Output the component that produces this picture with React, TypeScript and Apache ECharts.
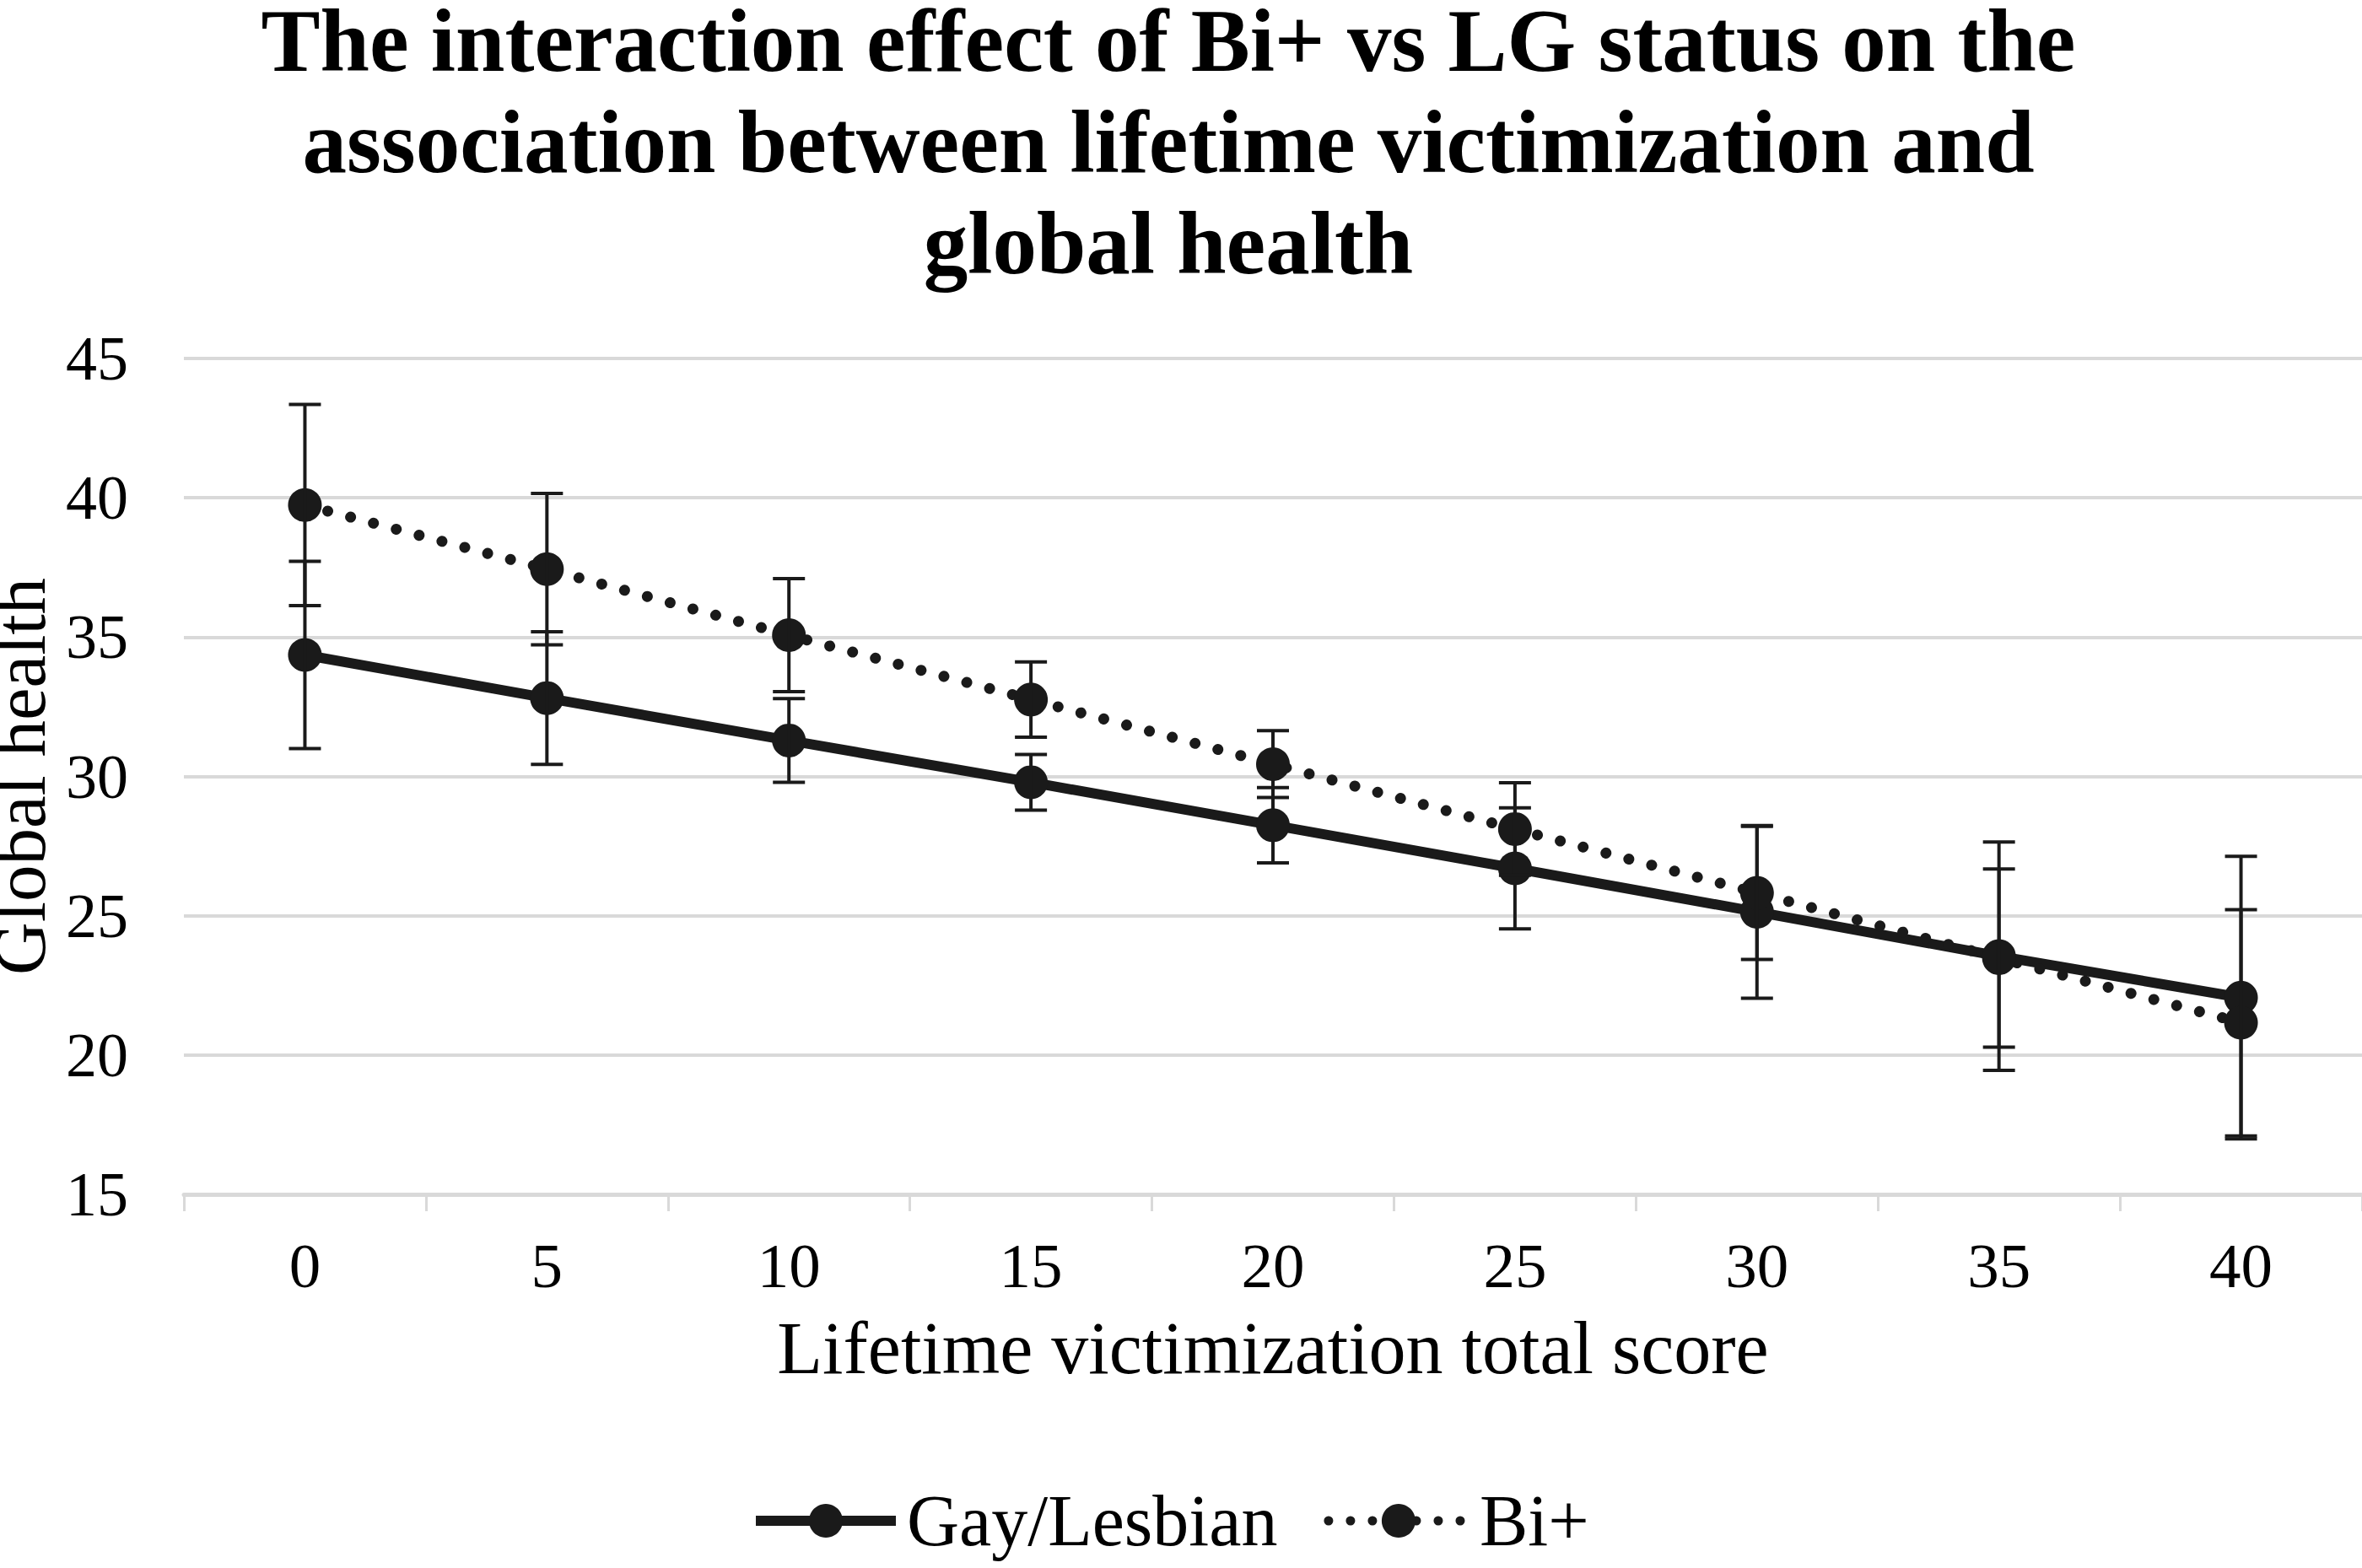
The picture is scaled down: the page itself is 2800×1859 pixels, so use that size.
import React, { useEffect, useRef } from "react";
import * as echarts from "echarts";

const categories = ["0", "5", "10", "15", "20", "25", "30", "35", "40"];
const gayLesbian = [34.36, 32.81, 31.29, 29.79, 28.25, 26.7, 25.14, 23.55, 22.06];
const gayLesbianError = [3.36, 2.38, 1.5, 1.0, 1.35, 2.17, 3.1, 4.1, 5.07];
const biPlus = [39.74, 37.44, 35.07, 32.76, 30.44, 28.11, 25.82, 23.48, 21.16];
const biPlusError = [3.61, 2.72, 2.03, 1.35, 1.2, 1.66, 2.39, 3.2, 4.06];
const yMin = 15;
const yMax = 45;
const yStep = 5;

const FONT = "'Liberation Serif', 'Times New Roman', serif";
const INK = "#1a1a1a";
const GRID = "#d9d9d9";

const toBars = (vals: number[], errs: number[]) =>
  vals.map((v, i) => [i, +(v - errs[i]).toFixed(2), +(v + errs[i]).toFixed(2)]);

const renderErr = (_params: any, api: any) => {
  const x = api.value(0);
  const lo = api.coord([x, api.value(1)]);
  const hi = api.coord([x, api.value(2)]);
  const w = 19;
  const style = { stroke: INK, lineWidth: 4 };
  return {
    type: "group",
    children: [
      { type: "line", shape: { x1: hi[0], y1: hi[1], x2: lo[0], y2: lo[1] }, style },
      { type: "line", shape: { x1: hi[0] - w, y1: hi[1], x2: hi[0] + w, y2: hi[1] }, style },
      { type: "line", shape: { x1: lo[0] - w, y1: lo[1], x2: lo[0] + w, y2: lo[1] }, style },
    ],
  };
};

export default function App() {
  const ref = useRef<HTMLDivElement>(null);
  useEffect(() => {
    document.body.style.margin = "0";
    const chart = echarts.init(ref.current!, null, { renderer: "svg" });
    chart.setOption({
      animation: false,
      backgroundColor: "#ffffff",
      title: {
        text: "The interaction effect of Bi+ vs LG status on the\nassociation between lifetime victimization and\nglobal health",
        left: 1385,
        top: -12,
        padding: 0,
        textAlign: "center",
        textStyle: {
          fontFamily: FONT,
          fontWeight: "bold",
          fontSize: 105,
          lineHeight: 120,
          color: "#000",
        },
      },
      legend: {
        data: [
          { name: "Gay/Lesbian", lineStyle: { width: 12 } },
          { name: "Bi+", lineStyle: { width: 11, type: [0.01, 26], cap: "round" } },
        ],
        left: 890,
        top: 1760,
        padding: 0,
        itemWidth: 166,
        itemHeight: 50,
        itemGap: 55,
        textStyle: { fontFamily: FONT, fontSize: 86, color: "#000", padding: [0, 0, 0, 8] },
      },
      grid: { left: 218, right: 0, top: 425, bottom: 443, containLabel: false, outerBoundsMode: "none" },
      xAxis: {
        type: "category",
        data: categories,
        boundaryGap: true,
        name: "Lifetime victimization total score",
        nameLocation: "middle",
        nameGap: 138,
        nameTextStyle: { fontFamily: FONT, fontSize: 88, color: "#000" },
        axisLine: { show: true, lineStyle: { color: GRID, width: 5 } },
        axisTick: { show: true, length: 20, lineStyle: { color: GRID, width: 3 } },
        axisLabel: { fontFamily: FONT, fontSize: 75, color: "#000", margin: 47 },
        splitLine: { show: false },
      },
      yAxis: {
        type: "value",
        min: yMin,
        max: yMax,
        interval: yStep,
        name: "Global health",
        nameLocation: "middle",
        nameGap: 122,
        nameTextStyle: { fontFamily: FONT, fontSize: 87, color: "#000" },
        axisLine: { show: false },
        axisTick: { show: false },
        axisLabel: { fontFamily: FONT, fontSize: 74, color: "#000", margin: 66 },
        splitLine: { show: true, lineStyle: { color: GRID, width: 4 } },
      },
      series: [
        {
          name: "Gay/Lesbian",
          type: "line",
          data: gayLesbian,
          symbol: "circle",
          symbolSize: 40,
          itemStyle: { color: INK },
          lineStyle: { color: INK, width: 12 },
          z: 3,
        },
        {
          name: "Bi+",
          type: "line",
          data: biPlus,
          symbol: "circle",
          symbolSize: 40,
          itemStyle: { color: INK },
          lineStyle: { color: INK, width: 13, type: [0.01, 28], cap: "round" },
          z: 3,
        },
        {
          name: "GL error",
          type: "custom",
          renderItem: renderErr,
          data: toBars(gayLesbian, gayLesbianError),
          encode: { x: 0, y: [1, 2] },
          z: 4,
        },
        {
          name: "Bi error",
          type: "custom",
          renderItem: renderErr,
          data: toBars(biPlus, biPlusError),
          encode: { x: 0, y: [1, 2] },
          z: 4,
        },
      ],
    });
    return () => chart.dispose();
  }, []);
  return <div ref={ref} style={{ width: 2800, height: 1859 }} />;
}
